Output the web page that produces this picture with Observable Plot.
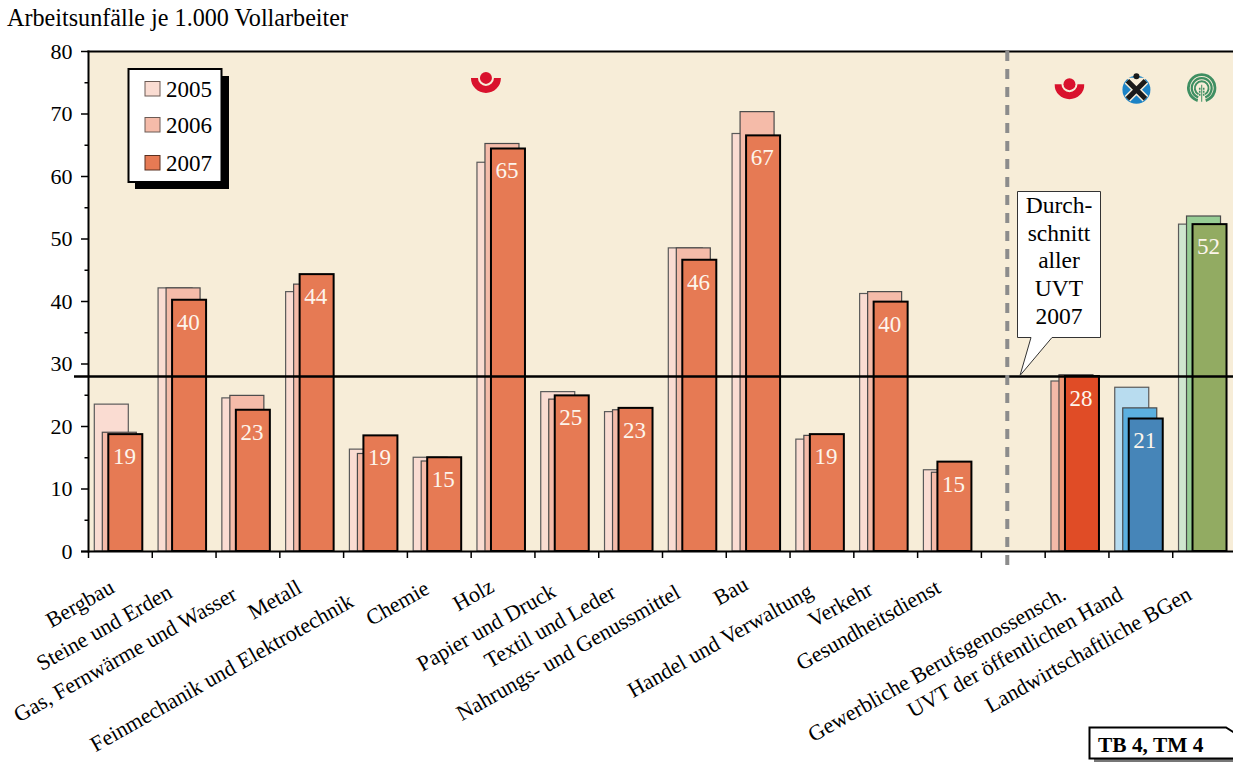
<!DOCTYPE html>
<html lang="de">
<head>
<meta charset="utf-8">
<title>Arbeitsunfälle je 1.000 Vollarbeiter</title>
<script src="https://cdn.jsdelivr.net/npm/d3@7"></script>
<script src="https://cdn.jsdelivr.net/npm/@observablehq/plot@0.6"></script>
<style>
html,body{margin:0;padding:0;background:#fff;overflow:hidden;}
#wrap{position:relative;width:1233px;height:763px;font-family:"Liberation Serif",serif;color:#000;}
#title{height:36px;box-sizing:border-box;padding:5px 0 0 7px;font-size:24.15px;line-height:26px;white-space:nowrap;}
#chart svg{display:block;}
#overlay{position:absolute;left:0;top:0;pointer-events:none;}
</style>
</head>
<body>
<div id="wrap">
  <div id="title">Arbeitsunfälle je 1.000 Vollarbeiter</div>
  <div id="chart"></div>
  <svg id="overlay" width="1233" height="763" font-family="Liberation Serif, serif">
    <!-- legend -->
    <rect x="135" y="76" width="94" height="113" fill="#000"/>
    <rect x="128.5" y="69" width="93" height="113" fill="#fff" stroke="#000" stroke-width="2"/>
    <rect x="145" y="81.5" width="15" height="14.5" fill="#fadcd2" stroke="#6b5a54"/>
    <rect x="145" y="117.5" width="15" height="14.5" fill="#f5bba9" stroke="#6b5a54"/>
    <rect x="145" y="155.5" width="15" height="14.5" fill="#e67a54" stroke="#5a3020"/>
    <text x="166" y="97" font-size="23">2005</text>
    <text x="166" y="133" font-size="23">2006</text>
    <text x="166" y="171" font-size="23">2007</text>
    <!-- callout -->
    <path d="M1017.5 191.5H1100.5V337.5H1052L1020 375.5L1031 337.5H1017.5Z" fill="#fff" stroke="#333" stroke-width="1"/>
    <g font-size="23.5" text-anchor="middle">
      <text x="1059" y="213">Durch-</text>
      <text x="1059" y="241">schnitt</text>
      <text x="1059" y="268">aller</text>
      <text x="1059" y="296">UVT</text>
      <text x="1059" y="324">2007</text>
    </g>
    <!-- tag -->
    <rect x="1094" y="732" width="139" height="30" fill="#777"/>
    <path d="M1089.5 727.5H1226L1234 732.5V758.5H1089.5Z" fill="#fff" stroke="#000" stroke-width="2"/>
    <text x="1098" y="751.5" font-size="21.4" font-weight="bold">TB 4, TM 4</text>
  </svg>
</div>
<script>
// ---------- data ----------
const categories = ["Bergbau","Steine und Erden","Gas, Fernwärme und Wasser","Metall","Feinmechanik und Elektrotechnik","Chemie","Holz","Papier und Druck","Textil und Leder","Nahrungs- und Genussmittel","Bau","Handel und Verwaltung","Verkehr","Gesundheitsdienst","Gewerbliche Berufsgenossensch.","UVT der öffentlichen Hand","Landwirtschaftliche BGen"];
const values2005 = [23.5,42.1,24.5,41.5,16.3,15.0,62.2,25.5,22.3,48.5,66.8,17.9,41.2,13.0,27.2,26.2,52.3];
const values2006 = [19.0,42.1,24.9,42.7,15.6,14.4,65.2,24.3,22.6,48.5,70.3,18.5,41.5,12.6,28.2,22.9,53.6];
const values2007 = [18.7,40.2,22.6,44.3,18.5,15.0,64.4,24.9,22.9,46.6,66.5,18.7,39.9,14.3,28.0,21.2,52.3];
const shownLabels = [19,40,23,44,19,15,65,25,23,46,67,19,40,15,28,21,52];
const average2007 = 28;
const majorTicks = [0,10,20,30,40,50,60,70,80];
const minorTicks = [5,15,25,35,45,55,65,75];

// ---------- styles and layout offsets ----------
const labelDx = [-8,-14,-13,-12,-24,-12,-11,-13,-17,-16,-12,-11,-15,-11,-13,-20,-15];
const labelDy = [34,39,41,34,48,35,33,38,39,39,31,38,36,34,41,41,41];
const gap = " ";
const slots = [...categories.slice(0,14), gap, ...categories.slice(14)];
const palette = {
  branch: ["#fadcd2","#f5bba9","#e67a54"],
  "Gewerbliche Berufsgenossensch.": ["#f4baa8","#ef9a78","#e04c26"],
  "UVT der öffentlichen Hand": ["#b8dcef","#5bb0e0","#4685b8"],
  "Landwirtschaftliche BGen": ["#cfe6cf","#97cd95","#92ab62"]
};
const colour = (cat, i) => (palette[cat] || palette.branch)[i];
const table = categories.map((c,i) => ({c, a:values2005[i], b:values2006[i], v:values2007[i], label:shownLabels[i]}));

const slot = 1148/18, barW = 34;
const bar = (key, idx, left, stroke, sw) => Plot.barY(table, {
  x:"c", y:key, fill:d=>colour(d.c,idx), stroke, strokeWidth:sw,
  insetLeft:left, insetRight:slot-left-barW
});

// ---------- logos ----------
const svgUri = s => "data:image/svg+xml;utf8," + encodeURIComponent(s);
const redLogo = svgUri(`<svg xmlns="http://www.w3.org/2000/svg" viewBox="0 0 30 30"><circle cx="15" cy="9.5" r="6" fill="#d9122d"/><path d="M0 9.5H7A8 8 0 0 0 23 9.5H30A15 15 0 0 1 0 9.5Z" fill="#d9122d"/></svg>`);
const blueLogo = svgUri(`<svg xmlns="http://www.w3.org/2000/svg" viewBox="0 0 36 36"><circle cx="18" cy="20" r="14" fill="#1c83c6"/><path d="M18 20L8 8H28Z" fill="#f7edd8"/><path d="M9 11L27 29M27 11L9 29" stroke="#f7edd8" stroke-width="8"/><path d="M9 11L27 29M27 11L9 29" stroke="#1a1a1a" stroke-width="5"/><circle cx="18" cy="6.5" r="3" fill="#1a1a1a"/></svg>`);
const greenLogo = svgUri(`<svg xmlns="http://www.w3.org/2000/svg" viewBox="0 0 30 30" fill="none" stroke="#3f8f62"><path d="M11 27.8A13.3 13.3 0 1 1 19 27.8" stroke-width="2.8"/><path d="M11.5 24.6A9.9 9.9 0 1 1 18.5 24.6" stroke-width="2.2"/><path d="M11.8 21.5A6.9 6.9 0 1 1 18.2 21.5" stroke-width="1.9"/><path d="M15 12V29" stroke-width="1"/><path d="M13 15V23M17 15V23" stroke-width="1.6" stroke-dasharray="2 1"/></svg>`);
const logos = [
  {c:"Holz", y:74.9, dx:-17.1, src:redLogo, s:30},
  {c:"Gewerbliche Berufsgenossensch.", y:73.9, dx:-7.6, src:redLogo, s:30},
  {c:"UVT der öffentlichen Hand", y:74.2, dx:-4.4, src:blueLogo, s:36},
  {c:"Landwirtschaftliche BGen", y:74.2, dx:-2.9, src:greenLogo, s:30}
];

// ---------- chart ----------
const serif = "Liberation Serif, serif";
const axisFont = {fontFamily:serif, fill:"#000"};
const chart = Plot.plot({
  width:1233, height:727,
  marginTop:15, marginBottom:212, marginLeft:88, marginRight:0,
  style:{background:"transparent", fontFamily:serif, overflow:"visible"},
  x:{type:"band", domain:slots, range:[88,1236], padding:0, round:false, axis:null},
  y:{domain:[0,80], axis:null},
  marks:[
    Plot.frame({fill:"#f7edd8", stroke:"none"}),
    bar("a",0,6.3,"#5a5a5a",1.2),
    bar("b",1,14.3,"#4a4a4a",1.2),
    bar("v",2,20.3,"#000",2),
    Plot.frame({anchor:"top", stroke:"#000", strokeWidth:2}),
    Plot.frame({anchor:"left", stroke:"#000", strokeWidth:2}),
    Plot.ruleY([0],{stroke:"#000", strokeWidth:2, insetLeft:-7}),
    Plot.ruleY([average2007],{stroke:"#000", strokeWidth:2.5, insetLeft:-14}),
    Plot.ruleX([gap],{y1:80, y2:-3.3, dx:-6, stroke:"#8c8c8c", strokeWidth:4, strokeDasharray:"10 8"}),
    Plot.axisY({ticks:majorTicks, tickSize:7, tickPadding:9, fontSize:22, tickFormat:d=>String(d), label:null, stroke:"#000", strokeWidth:1.5, ...axisFont}),
    Plot.axisY({ticks:minorTicks, tickSize:3.5, tickFormat:()=>"", label:null, stroke:"#000", strokeWidth:1.5, ...axisFont}),
    Plot.axisX({tickSize:7, dx:-slot/2, tickFormat:()=>"", label:null, stroke:"#000", strokeWidth:1.5, ...axisFont}),
    ...categories.map((c,i) => Plot.text([c],{x:d=>d, y:()=>0, text:d=>d, rotate:-29.5, textAnchor:"end", lineAnchor:"middle", dx:labelDx[i], dy:labelDy[i], fontSize:22, ...axisFont})),
    Plot.text(table,{x:"c", y:"v", text:d=>String(d.label), dy:22, dx:4, fill:"#fdf5ec", fontSize:23, fontFamily:serif}),
    ...logos.map(l => Plot.image([l],{x:"c", y:"y", dx:l.dx, src:d=>d.src, width:l.s, height:l.s}))
  ]
});
document.getElementById("chart").appendChild(chart);
</script>
</body>
</html>
